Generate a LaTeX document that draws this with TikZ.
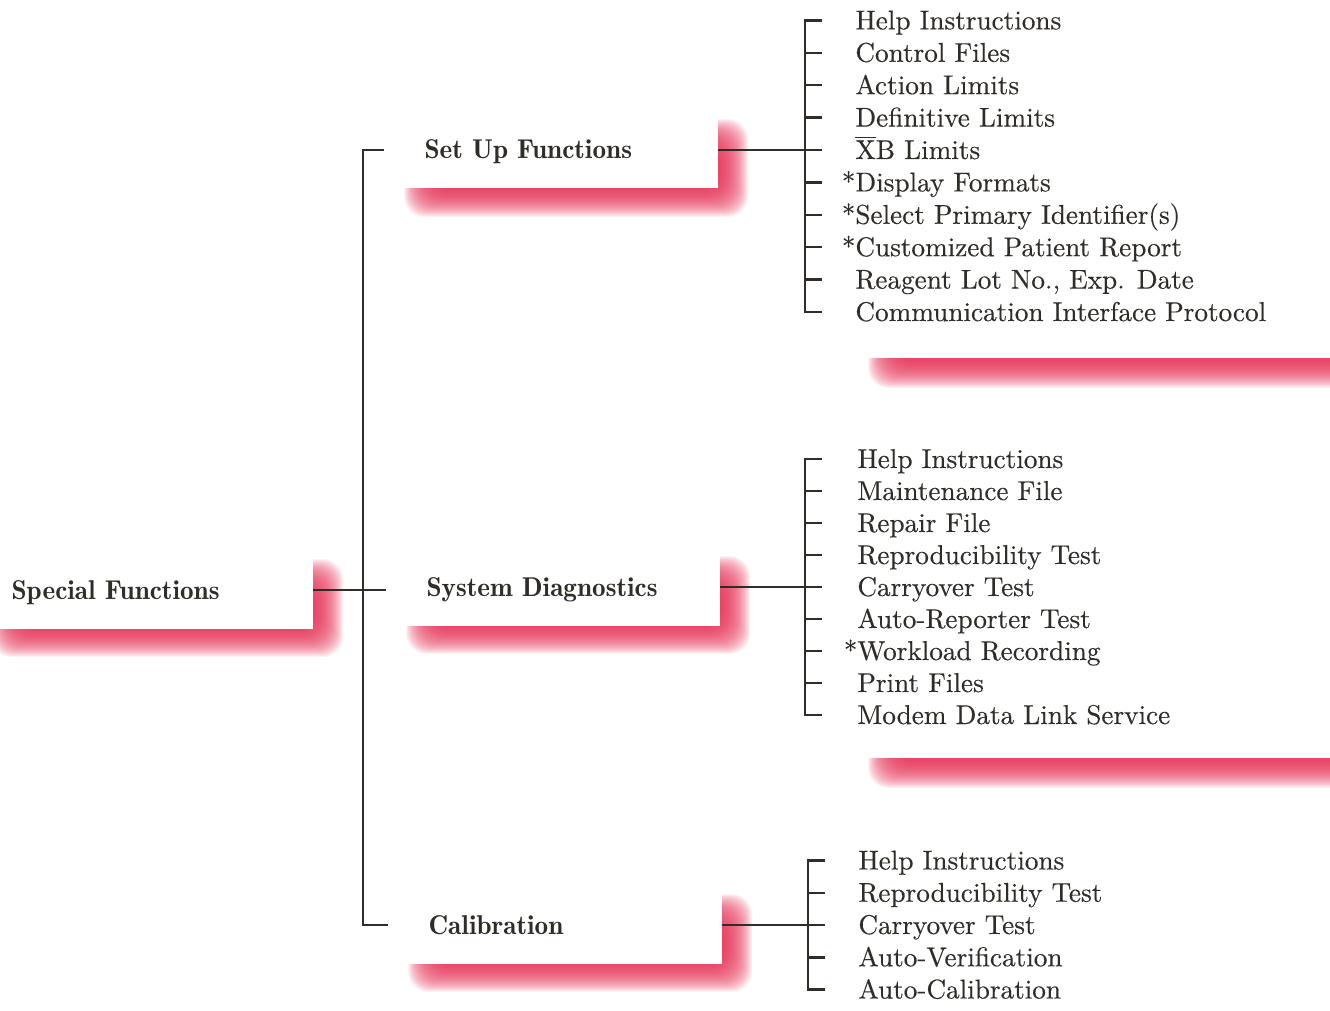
\documentclass[tikz,border=0pt]{standalone}
\usepackage{fontspec}
\usepackage{tikz}
\usetikzlibrary{positioning, calc, backgrounds}

\newfontfamily\itemfont{lmroman10-regular}[Extension=.otf, FakeBold=0.3]

\definecolor{inkgray}{RGB}{48,45,40}
\definecolor{shadowred}{RGB}{228,40,78}

% soft red shadow behind a white panel: nw corner, se corner, x offset, y offset
\newcommand\castshadow[4]{%
  \begin{scope}[on background layer]
    \foreach \k in {-10,...,20}
      \fill[shadowred, opacity=.065, rounded corners=10pt]
        ($#1+({#3+\k},{#4+\k})$) rectangle ($#2+({#3-\k},{#4-\k})$);
  \end{scope}}

\begin{document}
\begin{tikzpicture}[
  x=0.5pt, y=-0.5pt,
  headbox/.style={rectangle, fill=white, inner xsep=15pt, inner ysep=0pt,
                  minimum height=38.5pt, text width=131.5pt, align=left,
                  text height=9pt, text depth=0pt, anchor=east, text=inkgray,
                  font=\fontsize{13.6}{16}\fontseries{b}\selectfont},
  item/.style={inner sep=0pt, anchor=west, text height=9pt, text depth=0pt,
               text=inkgray, font=\itemfont\fontsize{13.6}{16}\selectfont},
  link/.style={draw=inkgray, line width=1.25pt}
]
\useasboundingbox (0,0) rectangle (1330,1011);

% main headings
\node[headbox, text width=135.5pt] (special) at (313,590) {Special Functions};
\node[headbox] (setup) at (718,150) {Set Up Functions};
\node[headbox] (diag) at (720,587) {System Diagnostics};
\node[headbox] (calib) at (722,925) {Calibration};

\castshadow{(special.north west)}{(special.south east)}{20}{18}
\castshadow{(setup.north west)}{(setup.south east)}{20}{18}
\castshadow{(diag.north west)}{(diag.south east)}{20}{18}
\castshadow{(calib.north west)}{(calib.south east)}{20}{18}

% trunk
\coordinate (trunk) at (363,0);
\draw[link] ([xshift=-5pt]setup.west) -- (setup.west -| trunk)
  -- (calib.west -| trunk) -- ([xshift=-5pt]calib.west);
\draw[link] (special.east) -- ([xshift=-5pt]diag.west |- special.east);

% set up functions
\begin{scope}[node distance=16.2pt]
\node[item] (su-1) at (855,20.4) {Help Instructions};
\node[below=of su-1.west, item] (su-2) {Control Files};
\node[below=of su-2.west, item] (su-3) {Action Limits};
\node[below=of su-3.west, item] (su-4) {Definitive Limits};
\node[below=of su-4.west, item] (su-5) {\(\overline{\mbox{X}}\)B Limits};
\node[below=of su-5.west, item] (su-6) {\llap{*}Display Formats};
\node[below=of su-6.west, item] (su-7) {\llap{*}Select Primary Identifier(s)};
\node[below=of su-7.west, item] (su-8) {\llap{*}Customized Patient Report};
\node[below=of su-8.west, item] (su-9) {Reagent Lot No., Exp. Date};
\node[below=of su-9.west, item] (su-10) {Communication Interface Protocol};
\end{scope}

\coordinate (su-spine) at (805,0);
\draw[link] ([xshift=-16.5pt]su-1.west) -- (su-1.west -| su-spine)
  -- (su-10.west -| su-spine) -- ([xshift=-16.5pt]su-10.west);
\foreach \i in {2,...,9}
  \draw[link] (su-\i.west -| su-spine) -- ([xshift=-16.5pt]su-\i.west);
\draw[link] (setup.east) -- (setup.east -| su-spine);

\coordinate (su-nw) at (850,-40);
\coordinate (su-se) at (1360,358);
\castshadow{(su-nw)}{(su-se)}{28}{20}
\begin{scope}[on background layer]
\fill[white] (su-nw) rectangle (su-se);
\end{scope}

% system diagnostics
\begin{scope}[node distance=16pt]
\node[item] (sd-1) at (857,459) {Help Instructions};
\node[below=of sd-1.west, item] (sd-2) {Maintenance File};
\node[below=of sd-2.west, item] (sd-3) {Repair File};
\node[below=of sd-3.west, item] (sd-4) {Reproducibility Test};
\node[below=of sd-4.west, item] (sd-5) {Carryover Test};
\node[below=of sd-5.west, item] (sd-6) {Auto-Reporter Test};
\node[below=of sd-6.west, item] (sd-7) {\llap{*}Workload Recording};
\node[below=of sd-7.west, item] (sd-8) {Print Files};
\node[below=of sd-8.west, item] (sd-9) {Modem Data Link Service};
\end{scope}

\coordinate (sd-spine) at (805,0);
\draw[link] ([xshift=-17.5pt]sd-1.west) -- (sd-1.west -| sd-spine)
  -- (sd-9.west -| sd-spine) -- ([xshift=-17.5pt]sd-9.west);
\foreach \i in {2,...,8}
  \draw[link] (sd-\i.west -| sd-spine) -- ([xshift=-17.5pt]sd-\i.west);
\draw[link] (diag.east) -- (diag.east -| sd-spine);

\coordinate (sd-nw) at (850,420);
\coordinate (sd-se) at (1360,758);
\castshadow{(sd-nw)}{(sd-se)}{28}{20}
\begin{scope}[on background layer]
\fill[white] (sd-nw) rectangle (sd-se);
\end{scope}

% calibration
\begin{scope}[node distance=16.125pt]
\node[item] (ca-1) at (858,860.5) {Help Instructions};
\node[below=of ca-1.west, item] (ca-2) {Reproducibility Test};
\node[below=of ca-2.west, item] (ca-3) {Carryover Test};
\node[below=of ca-3.west, item] (ca-4) {Auto-Verification};
\node[below=of ca-4.west, item] (ca-5) {Auto-Calibration};
\end{scope}

\coordinate (ca-spine) at (808,0);
\draw[link] ([xshift=-16.5pt]ca-1.west) -- (ca-1.west -| ca-spine)
  -- (ca-5.west -| ca-spine) -- ([xshift=-16.5pt]ca-5.west);
\foreach \i in {2,...,4}
  \draw[link] (ca-\i.west -| ca-spine) -- ([xshift=-16.5pt]ca-\i.west);
\draw[link] (calib.east) -- (calib.east -| ca-spine);
\end{tikzpicture}
\end{document}
